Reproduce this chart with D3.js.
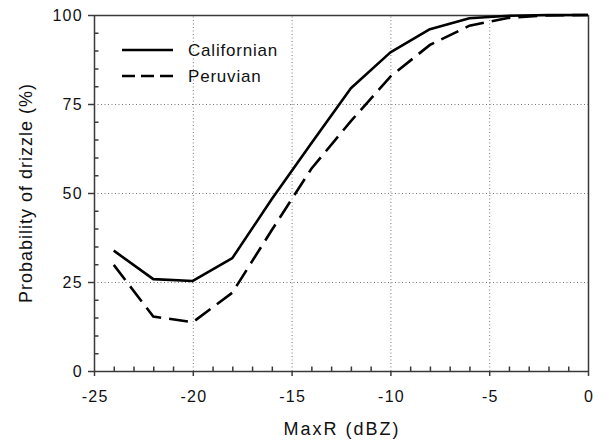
<!DOCTYPE html>
<html>
<head>
<meta charset="utf-8">
<script src="https://cdn.jsdelivr.net/npm/d3@7"></script>
<style>
  body { margin: 0; background: #fff; }
  text { font-family: "Liberation Sans", Arial, sans-serif; fill: #111; }
</style>
</head>
<body>
<div id="chart"></div>
<script>
// data
const maxR = [-24, -22, -20, -18, -16, -14, -12, -10, -8, -6, -4, -2, 0];
const californian = [33.8, 25.8, 25.3, 31.7, 48.3, 64, 79.4, 89.5, 96, 99.1, 99.8, 100, 100];
const peruvian = [29.8, 15.3, 13.7, 22, 39.6, 56.8, 70.2, 82.7, 91.6, 97, 99.2, 99.9, 100];
const xTicks = [-25, -20, -15, -10, -5, 0];
const yTicks = [0, 25, 50, 75, 100];
const xMinor = d3.range(-24, 0, 1).filter(d => d % 5 !== 0);
const yMinor = d3.range(5, 100, 5).filter(d => d % 25 !== 0);

const width = 605, height = 440;
const margin = ({top: 15, right: 17, bottom: 69, left: 94});

const svg = d3.select('#chart').append('svg')
    .attr('width', width)
    .attr('height', height);

const x = d3.scaleLinear().domain([-25, 0]).range([margin.left, width - margin.right]);
const y = d3.scaleLinear().domain([0, 100]).range([height - margin.bottom, margin.top]);

const axisColor = '#3a3a3a';
const fontFam = '"Liberation Sans", Arial, sans-serif';

// dotted grid
svg.append('g')
    .selectAll('line')
    .data(xTicks.slice(1, -1))
    .join('line')
    .attr('x1', d => x(d) + 0.5).attr('x2', d => x(d) + 0.5)
    .attr('y1', y(0)).attr('y2', y(100))
    .attr('stroke', '#777')
    .attr('stroke-width', 1)
    .attr('stroke-dasharray', '1,2.5');
svg.append('g')
    .selectAll('line')
    .data(yTicks.slice(1, -1))
    .join('line')
    .attr('x1', x(-25)).attr('x2', x(0))
    .attr('y1', d => y(d) + 0.5).attr('y2', d => y(d) + 0.5)
    .attr('stroke', '#777')
    .attr('stroke-width', 1)
    .attr('stroke-dasharray', '1,2.5');

// main axes
const xAxis = svg.append('g')
    .attr('transform', `translate(0,${y(0)})`)
    .call(d3.axisBottom(x).tickValues(xTicks).tickFormat(d => String(d))
        .tickSize(5).tickPadding(15).tickSizeOuter(0));
const yAxis = svg.append('g')
    .attr('transform', `translate(${x(-25)},0)`)
    .call(d3.axisLeft(y).tickValues(yTicks).tickFormat(d => String(d))
        .tickSize(6).tickPadding(5).tickSizeOuter(0));
[xAxis, yAxis].forEach(g => {
    g.select('.domain').attr('stroke', axisColor).attr('stroke-width', 1.5);
    g.selectAll('line').attr('stroke', axisColor).attr('stroke-width', 1.5);
    g.selectAll('text').attr('font-size', 16).attr('fill', '#111')
        .style('letter-spacing', '1.3px')
        .style('font-family', fontFam);
});
// keep x labels centred despite trailing letter spacing
xAxis.selectAll('text').attr('dx', '0.65px');

// minor ticks, pointing inwards (one path each axis)
svg.append('path')
    .attr('d', xMinor.map(d => `M${x(d) + 0.5},${y(0)}v-4.5`).join(''))
    .attr('stroke', axisColor)
    .attr('stroke-width', 1.5);
svg.append('path')
    .attr('d', yMinor.map(d => `M${x(-25)},${y(d) + 0.5}h4.5`).join(''))
    .attr('stroke', axisColor)
    .attr('stroke-width', 1.5);

// top and right frame
svg.append('path')
    .attr('d', `M${x(-25)},${y(100) + 0.5}H${x(0) + 0.5}V${y(0)}`)
    .attr('fill', 'none')
    .attr('stroke', axisColor)
    .attr('stroke-width', 1.5);

// lines
const line = d3.line()
    .x(d => x(d[0]))
    .y(d => y(d[1]));

svg.append('path')
    .datum(d3.zip(maxR, californian))
    .attr('d', line)
    .attr('fill', 'none')
    .attr('stroke', '#000')
    .attr('stroke-width', 2.6)
    .attr('stroke-linejoin', 'round');

svg.append('path')
    .datum(d3.zip(maxR, peruvian))
    .attr('d', line)
    .attr('fill', 'none')
    .attr('stroke', '#000')
    .attr('stroke-width', 2.6)
    .attr('stroke-dasharray', '19,8');

// legend
const legend = svg.append('g');
legend.append('line')
    .attr('x1', 122).attr('x2', 173).attr('y1', 50).attr('y2', 50)
    .attr('stroke', '#000').attr('stroke-width', 2.4);
legend.append('line')
    .attr('x1', 122).attr('x2', 173).attr('y1', 76).attr('y2', 76)
    .attr('stroke', '#000').attr('stroke-width', 2.4)
    .attr('stroke-dasharray', '13,6');
legend.append('text')
    .attr('x', 188).attr('y', 56)
    .attr('font-size', 17)
    .style('letter-spacing', '0.8px')
    .text('Californian');
legend.append('text')
    .attr('x', 188).attr('y', 82)
    .attr('font-size', 17)
    .style('letter-spacing', '0.8px')
    .text('Peruvian');

// axis titles
svg.append('text')
    .attr('x', (x(-25) + x(0)) / 2 + 1)
    .attr('y', 434.5)
    .attr('text-anchor', 'middle')
    .attr('font-size', 18)
    .style('letter-spacing', '2px')
    .text('MaxR (dBZ)');

svg.append('text')
    .attr('transform', `translate(31.5,${(y(0) + y(100)) / 2}) rotate(-90)`)
    .attr('text-anchor', 'middle')
    .attr('font-size', 18)
    .style('letter-spacing', '1px')
    .text('Probability of drizzle (%)');
</script>
</body>
</html>
